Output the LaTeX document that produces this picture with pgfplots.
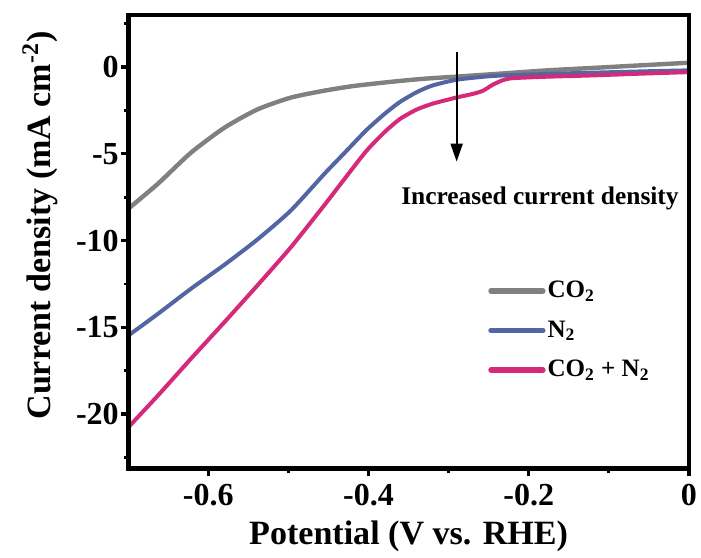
\documentclass[border=0pt]{standalone}
\usepackage{fontspec}
\setmainfont{Liberation Serif}
\usepackage{pgfplots}
\pgfplotsset{compat=1.18}
\usetikzlibrary{arrows.meta}

\definecolor{cgray}{RGB}{128,128,128}
\definecolor{cblue}{RGB}{84,101,163}
\definecolor{cpink}{RGB}{213,41,122}

% CO2 atmosphere
\pgfplotstableread{
x y
-0.700 -8.17
-0.663 -6.73
-0.622 -4.95
-0.580 -3.50
-0.539 -2.45
-0.497 -1.76
-0.455 -1.36
-0.420 -1.10
-0.386 -0.92
-0.361 -0.80
-0.330 -0.67
-0.290 -0.55
-0.236 -0.38
-0.177 -0.19
-0.120 -0.05
-0.060 0.10
0.000 0.25
}\co

% N2 atmosphere
\pgfplotstableread{
x y
-0.700 -15.48
-0.663 -14.23
-0.622 -12.79
-0.580 -11.40
-0.539 -9.95
-0.497 -8.27
-0.455 -6.15
-0.430 -4.95
-0.403 -3.65
-0.380 -2.70
-0.361 -2.02
-0.340 -1.45
-0.320 -1.06
-0.290 -0.73
-0.257 -0.56
-0.236 -0.49
-0.200 -0.43
-0.150 -0.36
-0.100 -0.30
-0.050 -0.24
0.000 -0.19
}\nn

% CO2 + N2
\pgfplotstableread{
x y
-0.700 -20.77
-0.663 -18.94
-0.622 -16.83
-0.580 -14.71
-0.539 -12.60
-0.497 -10.39
-0.455 -7.95
-0.430 -6.45
-0.403 -4.85
-0.380 -3.75
-0.361 -3.00
-0.340 -2.45
-0.320 -2.11
-0.300 -1.87
-0.290 -1.75
-0.270 -1.55
-0.257 -1.36
-0.245 -1.02
-0.232 -0.75
-0.220 -0.64
-0.180 -0.56
-0.120 -0.48
-0.060 -0.38
0.000 -0.29
}\mix

\begin{document}
\begin{tikzpicture}
\begin{axis}[
  scale only axis,
  width=280pt, height=226.5pt,
  xmin=-0.7, xmax=0, ymin=-23.15, ymax=3,
  xtick={-0.6,-0.4,-0.2,0}, xticklabels={-0.6,-0.4,-0.2,0},
  ytick={-20,-15,-10,-5,0}, yticklabels={-20,-15,-10,-5,0},
  minor xtick={-0.5,-0.3,-0.1},
  minor ytick={-22.5,-17.5,-12.5,-7.5,-2.5,2.5},
  xtick pos=bottom, ytick pos=left, tick align=outside,
  major tick length=3.5pt, minor tick length=2pt,
  major tick style={black, line width=1.6pt},
  minor tick style={black, line width=1.4pt},
  axis line style={black, line width=2.4pt},
  ticklabel style={font=\fontsize{16}{18}\selectfont\bfseries},
  xticklabel style={inner sep=1pt, yshift=-3pt},
  yticklabel style={inner sep=1pt},
  xlabel={Potential (V vs. RHE)},
  ylabel={Current density (mA cm\textsuperscript{-2})},
  label style={font=\fontsize{17}{20}\selectfont\bfseries},
  xlabel style={at={(axis description cs:0.5,-0.148)}, anchor=center},
  ylabel style={at={(axis description cs:-0.157,0.536)}, anchor=center},
  legend style={at={(axis cs:-0.251,-12.2)}, anchor=north west, draw=none, fill=none,
    inner sep=0pt, row sep=8pt, font=\fontsize{12.5}{14}\selectfont\bfseries,
    nodes={inner sep=1pt}},
  legend cell align=left,
  legend image code/.code={\draw[line width=2.6pt, line cap=round] (0pt,0pt) -- (26pt,0pt);},
]
\addplot[cgray, line width=2.2pt, smooth, tension=0.4] table {\co};
\addlegendentry{CO\textsubscript{2}}
\addplot[cblue, line width=2pt, smooth, tension=0.4] table {\nn};
\addlegendentry{N\textsubscript{2}}
\addplot[cpink, line width=2pt, smooth, tension=0.4] table {\mix};
\addlegendentry{CO\textsubscript{2} + N\textsubscript{2}}

\draw[line width=1pt, -{Triangle[length=9pt,width=6pt]}] (axis cs:-0.29,0.85) -- (axis cs:-0.29,-5.45);
\node[font=\fontsize{12.7}{15}\selectfont\bfseries] at (axis cs:-0.186,-7.6) {Increased current density};
\end{axis}
% frame
\draw[black, line width=2.4pt] (current axis.south west) rectangle (current axis.north east);
\pgfresetboundingbox
\useasboundingbox ([shift={(-64pt,-44.5pt)}]current axis.south west) rectangle ([shift={(6pt,7.5pt)}]current axis.north east);
\end{tikzpicture}
\end{document}
